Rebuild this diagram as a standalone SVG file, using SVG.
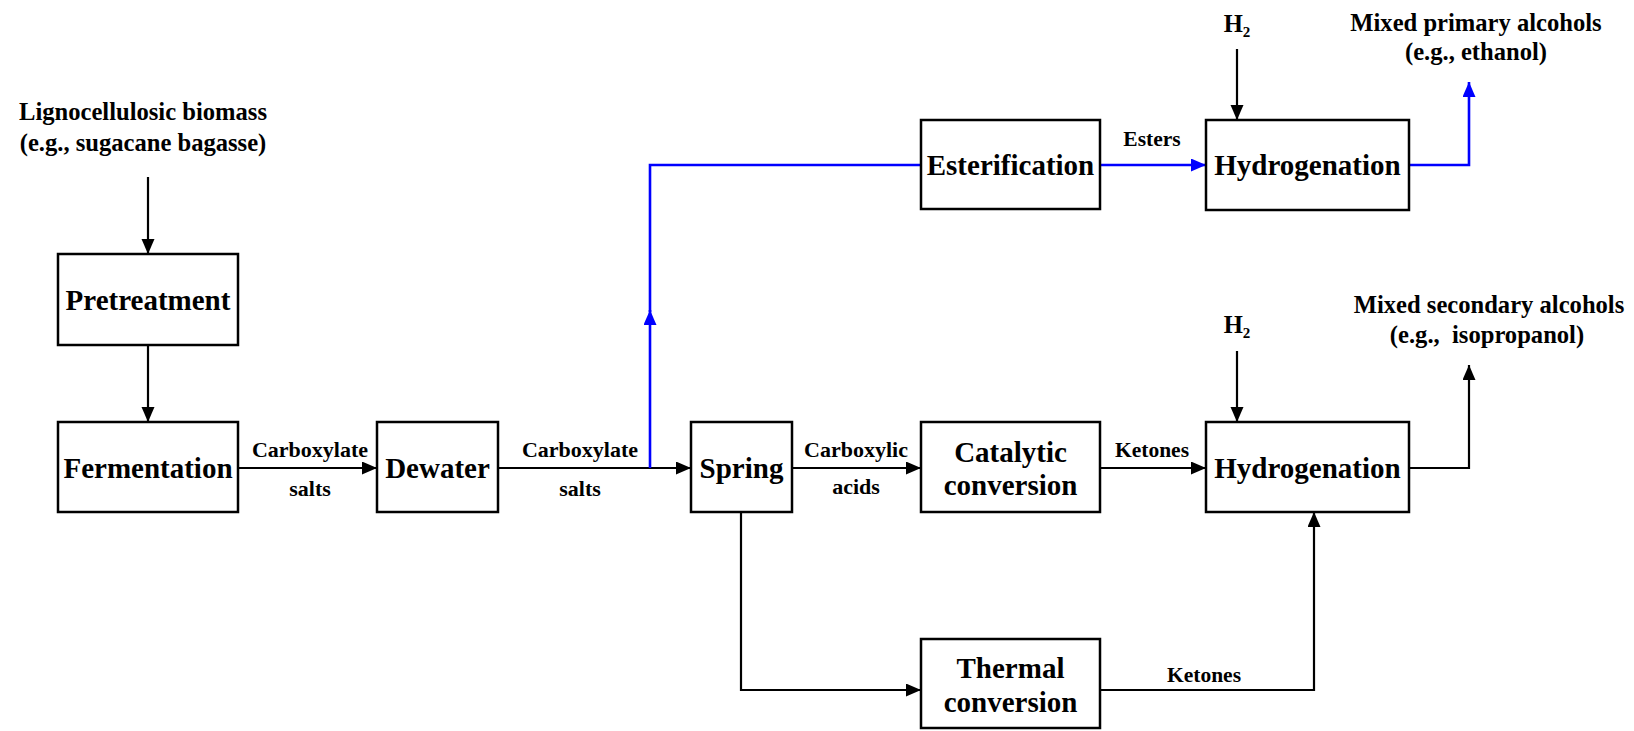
<svg xmlns="http://www.w3.org/2000/svg" width="1634" height="731" viewBox="0 0 1634 731">
<style>
text{font-family:"Liberation Serif","Times New Roman",serif;font-weight:bold;fill:#000;text-anchor:middle}
.box{fill:#fff;stroke:#000;stroke-width:2.5}
.bt{font-size:29px}
.lb{font-size:22px}
.sm{font-size:21.5px}
.hd{font-size:24.6px}
.k{fill:none;stroke:#000;stroke-width:2.2}
.b{fill:none;stroke:#0000ff;stroke-width:2.6}
</style>
<defs>
<marker id="ak" markerUnits="userSpaceOnUse" markerWidth="16" markerHeight="14" refX="15" refY="6.5" orient="auto"><path d="M0,0 L15,6.5 L0,13 z" fill="#000"/></marker>
<marker id="ab" markerUnits="userSpaceOnUse" markerWidth="16" markerHeight="14" refX="15" refY="6.5" orient="auto"><path d="M0,0 L15,6.5 L0,13 z" fill="#0000ff"/></marker>
</defs>
<g id="connectors">
<line class="k" x1="148" y1="177" x2="148" y2="254" marker-end="url(#ak)"/>
<line class="k" x1="148" y1="345" x2="148" y2="422" marker-end="url(#ak)"/>
<line class="k" x1="238" y1="468" x2="377" y2="468" marker-end="url(#ak)"/>
<line class="k" x1="498" y1="468" x2="691" y2="468" marker-end="url(#ak)"/>
<line class="k" x1="792" y1="468" x2="921" y2="468" marker-end="url(#ak)"/>
<line class="k" x1="1100" y1="468" x2="1206" y2="468" marker-end="url(#ak)"/>
<polyline class="k" points="741,512 741,690 921,690" marker-end="url(#ak)"/>
<polyline class="k" points="1100,690 1314,690 1314,512" marker-end="url(#ak)"/>
<line class="k" x1="1237" y1="351" x2="1237" y2="422" marker-end="url(#ak)"/>
<polyline class="k" points="1409,468 1469,468 1469,365" marker-end="url(#ak)"/>
<line class="k" x1="1237" y1="49" x2="1237" y2="120" marker-end="url(#ak)"/>
<line class="b" x1="650" y1="468" x2="650" y2="310" marker-end="url(#ab)"/>
<polyline class="b" points="650,312 650,165 921,165"/>
<line class="b" x1="1100" y1="165" x2="1206" y2="165" marker-end="url(#ab)"/>
<polyline class="b" points="1409,165 1469,165 1469,82" marker-end="url(#ab)"/>
</g>
<g id="biomass"><text class="hd" x="143" y="120">Lignocellulosic biomass</text><text class="hd" x="143" y="151">(e.g., sugacane bagasse)</text></g>
<g id="pretreatment"><rect class="box" x="58" y="254" width="180" height="91"/><text class="bt" x="148" y="310">Pretreatment</text></g>
<g id="fermentation"><rect class="box" x="58" y="422" width="180" height="90"/><text class="bt" x="148" y="478">Fermentation</text></g>
<g id="dewater"><rect class="box" x="377" y="422" width="121" height="90"/><text class="bt" x="437.5" y="478">Dewater</text></g>
<g id="spring"><rect class="box" x="691" y="422" width="101" height="90"/><text class="bt" x="741.5" y="478">Spring</text></g>
<g id="catalytic"><rect class="box" x="921" y="422" width="179" height="90"/><text class="bt" x="1010.5" y="462">Catalytic</text><text class="bt" x="1010.5" y="495">conversion</text></g>
<g id="thermal"><rect class="box" x="921" y="639" width="179" height="89"/><text class="bt" x="1010.5" y="678">Thermal</text><text class="bt" x="1010.5" y="712">conversion</text></g>
<g id="esterification"><rect class="box" x="921" y="120" width="179" height="89"/><text class="bt" x="1010.5" y="175">Esterification</text></g>
<g id="hydrogenation1"><rect class="box" x="1206" y="120" width="203" height="90"/><text class="bt" x="1307.5" y="175">Hydrogenation</text></g>
<g id="hydrogenation2"><rect class="box" x="1206" y="422" width="203" height="90"/><text class="bt" x="1307.5" y="478">Hydrogenation</text></g>
<g id="labels">
<text class="lb" x="310" y="457">Carboxylate</text><text class="lb" x="310" y="496">salts</text>
<text class="lb" x="580" y="457">Carboxylate</text><text class="lb" x="580" y="496">salts</text>
<text class="lb" x="856" y="457">Carboxylic</text><text class="lb" x="856" y="494">acids</text>
<text class="sm" x="1152" y="457">Ketones</text>
<text class="sm" x="1204" y="682">Ketones</text>
<text class="sm" x="1152" y="146">Esters</text>
</g>
<g id="h2-top"><text class="hd" x="1237" y="32">H<tspan font-size="15" dy="5">2</tspan></text></g>
<g id="h2-bottom"><text class="hd" x="1237" y="333">H<tspan font-size="15" dy="5">2</tspan></text></g>
<g id="primary"><text class="hd" x="1476" y="31">Mixed primary alcohols</text><text class="hd" x="1476" y="60">(e.g., ethanol)</text></g>
<g id="secondary"><text class="hd" x="1489" y="313">Mixed secondary alcohols</text><text class="hd" x="1487" y="343" xml:space="preserve">(e.g.,  isopropanol)</text></g>
</svg>
